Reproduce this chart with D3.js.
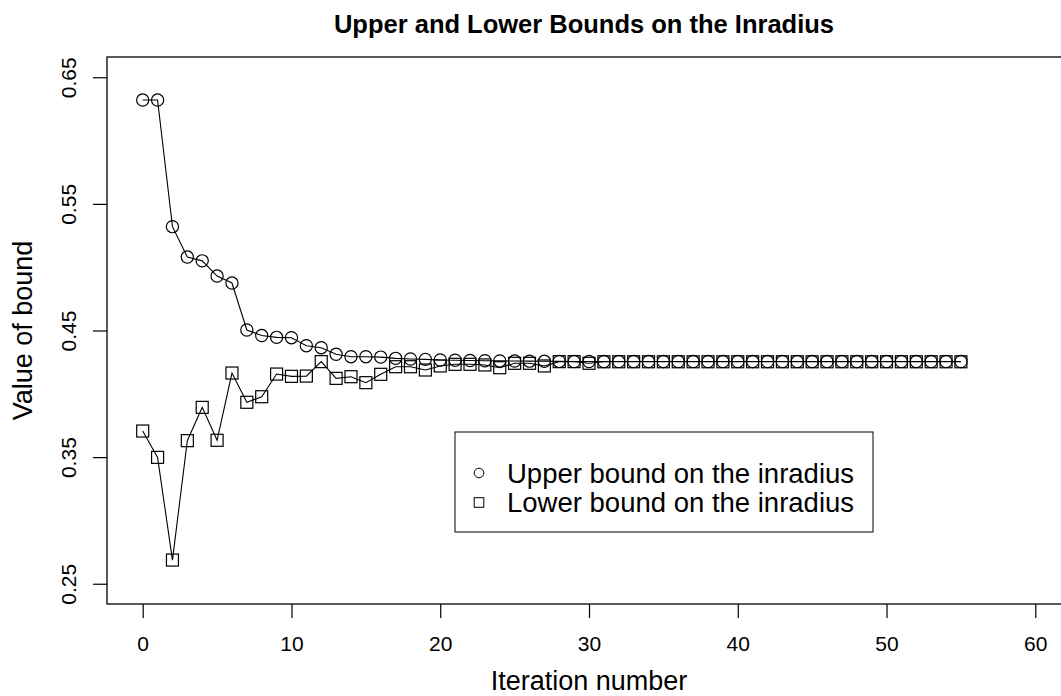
<!DOCTYPE html>
<html lang="en">
<head>
	<meta charset="utf-8">
	<title>Upper and Lower Bounds on the Inradius</title>
	<script src="https://d3js.org/d3.v7.min.js"></script>
	<style>
		body {
			margin: 0px;
			padding: 0px;
			background: #fff;
		}

		text {
			font-family: "Liberation Sans", Arial, Helvetica, sans-serif;
			fill: #000;
		}
	</style>
</head>
<body>
	<div id="chart"></div>
	<script>

		// Data
		var upperBound = [0.632, 0.632, 0.532, 0.508, 0.505, 0.493, 0.4875, 0.4504, 0.446, 0.4446,
			0.4443, 0.438, 0.4364, 0.4312, 0.4293, 0.4293, 0.429, 0.428, 0.4275, 0.4272,
			0.4267, 0.4265, 0.4263, 0.4261, 0.426, 0.4259, 0.4258, 0.4257, 0.4256, 0.4255,
			0.4255, 0.4255, 0.4255, 0.4255, 0.4255, 0.4255, 0.4255, 0.4255, 0.4255, 0.4255,
			0.4255, 0.4255, 0.4255, 0.4255, 0.4255, 0.4255, 0.4255, 0.4255, 0.4255, 0.4255,
			0.4255, 0.4255, 0.4255, 0.4255, 0.4255, 0.4255];

		var lowerBound = [0.3706, 0.3498, 0.2687, 0.363, 0.3893, 0.3633, 0.4164, 0.3933, 0.3977, 0.4156,
			0.4138, 0.414, 0.4254, 0.4122, 0.4135, 0.4088, 0.4154, 0.4214, 0.4214, 0.4188,
			0.422, 0.4233, 0.4233, 0.4228, 0.4206, 0.4241, 0.4241, 0.422, 0.4254, 0.4254,
			0.4241, 0.4253, 0.4253, 0.4253, 0.4253, 0.4253, 0.4253, 0.4253, 0.4253, 0.4253,
			0.4253, 0.4253, 0.4253, 0.4253, 0.4253, 0.4253, 0.4253, 0.4253, 0.4253, 0.4253,
			0.4253, 0.4253, 0.4253, 0.4253, 0.4253, 0.4253];

		var xTicks = [0, 10, 20, 30, 40, 50, 60];
		var yTicks = [0.25, 0.35, 0.45, 0.55, 0.65];

		var titleText = "Upper and Lower Bounds on the Inradius";
		var xLabel = "Iteration number";
		var yLabel = "Value of bound";
		var legendLabels = ["Upper bound on the inradius", "Lower bound on the inradius"];

		// Sizes
		var width = 1061,
			height = 696;

		var box = {
			left: 107,
			top: 57,
			right: 1071,
			bottom: 604
		};

		var svg = d3.select("#chart")
			.append("svg")
			.attr("width", width)
			.attr("height", height);

		// Scales (R style: 4% padding around the data range)
		var x = d3.scaleLinear()
			.domain([-2.4, 62.4])
			.range([box.left, box.right]);

		var y = d3.scaleLinear()
			.domain([0.234, 0.666])
			.range([box.bottom, box.top]);

		// Title
		svg.append("text")
			.attr("x", (box.left + box.right) / 2 - 5)
			.attr("y", 33)
			.attr("text-anchor", "middle")
			.style("font-size", "25.5px")
			.style("font-weight", "bold")
			.text(titleText);

		// Axes
		var xAxis = d3.axisBottom(x)
			.tickValues(xTicks)
			.tickSize(14)
			.tickPadding(18)
			.tickFormat(d3.format("d"));

		var gx = svg.append("g")
			.attr("transform", "translate(0," + box.bottom + ")")
			.call(xAxis);
		gx.select(".domain").remove();
		gx.selectAll("line").attr("stroke", "#000").attr("stroke-width", 1.2);
		gx.selectAll("text")
			.style("font-size", "21px")
			.attr("font-family", null);

		var yAxis = d3.axisLeft(y)
			.tickValues(yTicks)
			.tickSize(14)
			.tickFormat(d3.format(".2f"));

		var gy = svg.append("g")
			.attr("transform", "translate(" + box.left + ",0)")
			.call(yAxis);
		gy.select(".domain").remove();
		gy.selectAll("line").attr("stroke", "#000").attr("stroke-width", 1.2);
		gy.selectAll("text")
			.attr("x", null)
			.attr("dy", null)
			.attr("text-anchor", "middle")
			.attr("transform", "translate(-31,0) rotate(-90)")
			.style("font-size", "21px");

		// Axis labels
		svg.append("text")
			.attr("x", (box.left + box.right) / 2)
			.attr("y", 690)
			.attr("text-anchor", "middle")
			.style("font-size", "27px")
			.text(xLabel);

		svg.append("text")
			.attr("transform", "translate(32," + ((box.top + box.bottom) / 2) + ") rotate(-90)")
			.attr("text-anchor", "middle")
			.style("font-size", "27px")
			.text(yLabel);

		// Plot box
		svg.append("rect")
			.attr("x", box.left)
			.attr("y", box.top)
			.attr("width", box.right - box.left)
			.attr("height", box.bottom - box.top)
			.attr("fill", "none")
			.attr("stroke", "#000")
			.attr("stroke-width", 1.3);

		// Series
		var line = d3.line()
			.x(function (d, i) { return x(i); })
			.y(function (d) { return y(d); });

		var plot = svg.append("g");

		plot.append("path")
			.datum(upperBound)
			.attr("d", line)
			.attr("fill", "none")
			.attr("stroke", "#000")
			.attr("stroke-width", 1.1);

		plot.append("path")
			.datum(lowerBound)
			.attr("d", line)
			.attr("fill", "none")
			.attr("stroke", "#000")
			.attr("stroke-width", 1.1);

		plot.selectAll("circle.upper")
			.data(upperBound)
			.enter().append("circle")
			.attr("class", "upper")
			.attr("cx", function (d, i) { return x(i); })
			.attr("cy", function (d) { return y(d); })
			.attr("r", 6.1)
			.attr("fill", "none")
			.attr("stroke", "#000")
			.attr("stroke-width", 1.2);

		var sq = 12;
		plot.selectAll("rect.lower")
			.data(lowerBound)
			.enter().append("rect")
			.attr("class", "lower")
			.attr("x", function (d, i) { return x(i) - sq / 2; })
			.attr("y", function (d) { return y(d) - sq / 2; })
			.attr("width", sq)
			.attr("height", sq)
			.attr("fill", "none")
			.attr("stroke", "#000")
			.attr("stroke-width", 1.2);

		// Legend
		var legend = svg.append("g")
			.attr("transform", "translate(455,432)");

		legend.append("rect")
			.attr("width", 418)
			.attr("height", 100)
			.attr("fill", "#fff")
			.attr("stroke", "#000")
			.attr("stroke-width", 1);

		legend.append("circle")
			.attr("cx", 24)
			.attr("cy", 41)
			.attr("r", 4.8)
			.attr("fill", "none")
			.attr("stroke", "#000");

		legend.append("rect")
			.attr("x", 19.2)
			.attr("y", 65.7)
			.attr("width", 9.6)
			.attr("height", 9.6)
			.attr("fill", "none")
			.attr("stroke", "#000");

		legend.selectAll("text.item")
			.data(legendLabels)
			.enter().append("text")
			.attr("class", "item")
			.attr("x", 52)
			.attr("y", function (d, i) { return 51 + i * 29; })
			.style("font-size", "27.5px")
			.text(function (d) { return d; });

	</script>
</body>
</html>
